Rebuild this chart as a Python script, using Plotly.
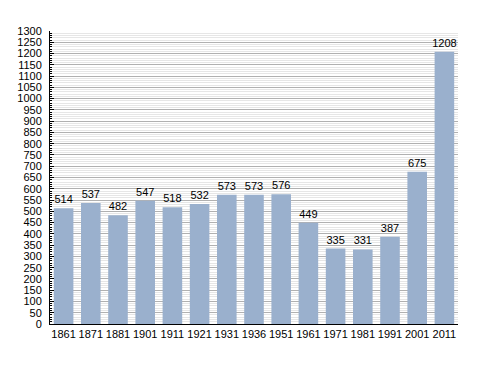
import plotly.graph_objects as go

years = ["1861", "1871", "1881", "1901", "1911", "1921", "1931", "1936", "1951",
         "1961", "1971", "1981", "1991", "2001", "2011"]
population = [514, 537, 482, 547, 518, 532, 573, 573, 576, 449, 335, 331, 387, 675, 1208]
y_ticks = list(range(0, 1301, 50))

fig = go.Figure(go.Bar(
    x=years, y=population,
    marker=dict(color="#9ab0cd", line=dict(width=0)),
    text=[str(v) for v in population], textposition="outside",
    textfont=dict(family="Liberation Sans, Arial", size=11, color="#000"),
    constraintext="none",
    cliponaxis=False,
))

# the page body has an 8px margin, so the figure is offset by 8px
fig.update_layout(
    width=472, height=357,
    margin=dict(l=42, r=22, t=23, b=41),
    paper_bgcolor="white", plot_bgcolor="white",
    bargap=0.28,
    showlegend=False,
    font=dict(family="Liberation Sans, Arial", size=11, color="#000"),
)
fig.update_xaxes(
    type="category", showline=True, linecolor="#000", linewidth=1,
    ticks="", showgrid=False, tickfont=dict(size=11), automargin=False,
)
fig.update_yaxes(
    range=[0, 1300], tickvals=y_ticks, ticktext=[str(v) for v in y_ticks],
    showline=True, linecolor="#000", linewidth=1,
    ticks="inside", ticklen=4, tickcolor="#000",
    showgrid=True, gridcolor="#b0b0b0", gridwidth=1,
    zeroline=False, tickfont=dict(size=11), automargin=False,
    ticklabelstandoff=5,
    minor=dict(dtick=10, tick0=0, showgrid=True, gridcolor="#e6e6e6",
               ticks="inside", ticklen=2, tickcolor="#000"),
)

fig.write_html("out.html")
